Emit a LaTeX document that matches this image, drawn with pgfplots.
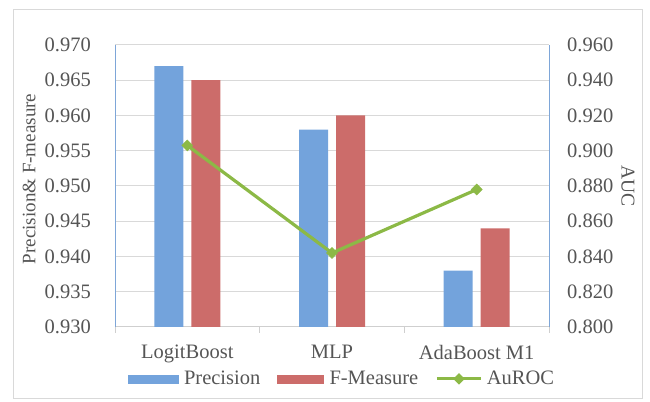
\documentclass[border=0pt]{standalone}
\usepackage{fontspec}
\setmainfont{Liberation Serif}
\usepackage{pgfplots}
\pgfplotsset{compat=1.18}
\definecolor{cblue}{HTML}{73A3DC}
\definecolor{cred}{HTML}{CC6C6A}
\definecolor{cgreen}{HTML}{8CB946}
\definecolor{gridc}{HTML}{D9D9D9}
\definecolor{axisblue}{HTML}{7EA6D8}
\definecolor{axisgrey}{HTML}{CFCFCF}
\definecolor{textc}{HTML}{555555}
\pgfplotsset{
  base/.style={
    scale only axis, width=434bp, height=282bp,
    at={(115bp,75bp)}, anchor=south west,
    xmin=-0.5, xmax=2.5,
    font=\fontsize{20.5bp}{24bp}\selectfont,
    tick label style={text=textc},
    ytick style={draw=none},
  }
}
\begin{document}
\begin{tikzpicture}
\useasboundingbox (0,0) rectangle (650bp,402bp);
\draw[gridc, line width=1bp] (13bp,3bp) rectangle (642bp,392bp);
\begin{axis}[base,
  ymin=0.93, ymax=0.97,
  ytick={0.93,0.935,0.94,0.945,0.95,0.955,0.96,0.965,0.97},
  yticklabels={0.930,0.935,0.940,0.945,0.950,0.955,0.960,0.965,0.970},
  axis x line*=bottom, axis y line*=left,
  x axis line style={draw=axisgrey, line width=1bp},
  y axis line style={draw=axisblue, line width=1bp},
  ymajorgrids, grid style={gridc, line width=1bp},
  yticklabel style={anchor=east, inner sep=0pt, xshift=-24bp},
  xtick={0,1,2}, xticklabels={LogitBoost, MLP, AdaBoost M1},
  xtick style={draw=none},
  xticklabel style={anchor=north, inner sep=0pt, yshift=-18bp},
  extra x ticks={-0.5,0.5,1.5,2.5}, extra x tick labels={},
  extra x tick style={xtick style={draw=axisgrey, line width=1bp}, major tick length=6bp, tick align=outside},
  ylabel={Precision\& F-measure},
  ylabel style={at={(axis description cs:-0.198,0.525)}, anchor=center, text=textc, font=\fontsize{19bp}{22bp}\selectfont},
]
\addplot[ybar, bar width=29bp, bar shift=-18.5bp, fill=cblue, draw=none] coordinates {(0,0.967) (1,0.958) (2,0.938)};
\addplot[ybar, bar width=29bp, bar shift=18.5bp, fill=cred, draw=none] coordinates {(0,0.965) (1,0.960) (2,0.944)};
\end{axis}
\begin{axis}[base,
  ymin=0.8, ymax=0.96,
  ytick={0.8,0.82,0.84,0.86,0.88,0.9,0.92,0.94,0.96},
  yticklabels={0.800,0.820,0.840,0.860,0.880,0.900,0.920,0.940,0.960},
  axis y line*=right, axis x line=none,
  y axis line style={draw=axisblue, line width=1bp},
  yticklabel style={anchor=west, inner sep=0pt, xshift=18bp},
  ylabel={AUC},
  ylabel style={at={(axis description cs:1.182,0.5)}, anchor=center, rotate=180, text=textc, font=\fontsize{19.5bp}{22bp}\selectfont},
  legend columns=3,
  legend style={draw=none, fill=none, at={(0.523,-0.184)}, anchor=center,
    text=textc, inner sep=0pt,
    /tikz/every even column/.append style={column sep=15bp},
    nodes={inner sep=2bp}},
  legend cell align=left,
]
\addlegendimage{legend image code/.code={\fill[cblue] (0bp,-4bp) rectangle (50bp,4bp); \path[draw=none,fill=none] (50bp,0bp) -- (54bp,0bp);}}
\addlegendentry{Precision}
\addlegendimage{legend image code/.code={\fill[cred] (0bp,-4bp) rectangle (46bp,4bp); \path[draw=none,fill=none] (46bp,0bp) -- (50bp,0bp);}}
\addlegendentry{F-Measure}
\addplot[cgreen, line width=3.2bp, mark=square*, mark size=3.9bp, mark options={rotate=45, fill=cgreen, line width=0.5bp},
  legend image code/.code={\draw[cgreen, line width=3.2bp] (0bp,0bp) -- (44bp,0bp); \fill[cgreen] (22bp,-3.5bp) -- (25.5bp,0bp) -- (22bp,3.5bp) -- (18.5bp,0bp) -- cycle; \path[draw=none,fill=none] (44bp,0bp) -- (48bp,0bp);}]
  coordinates {(0,0.903) (1,0.842) (2,0.878)};
\addlegendentry{AuROC}
\end{axis}
\end{tikzpicture}
\end{document}
